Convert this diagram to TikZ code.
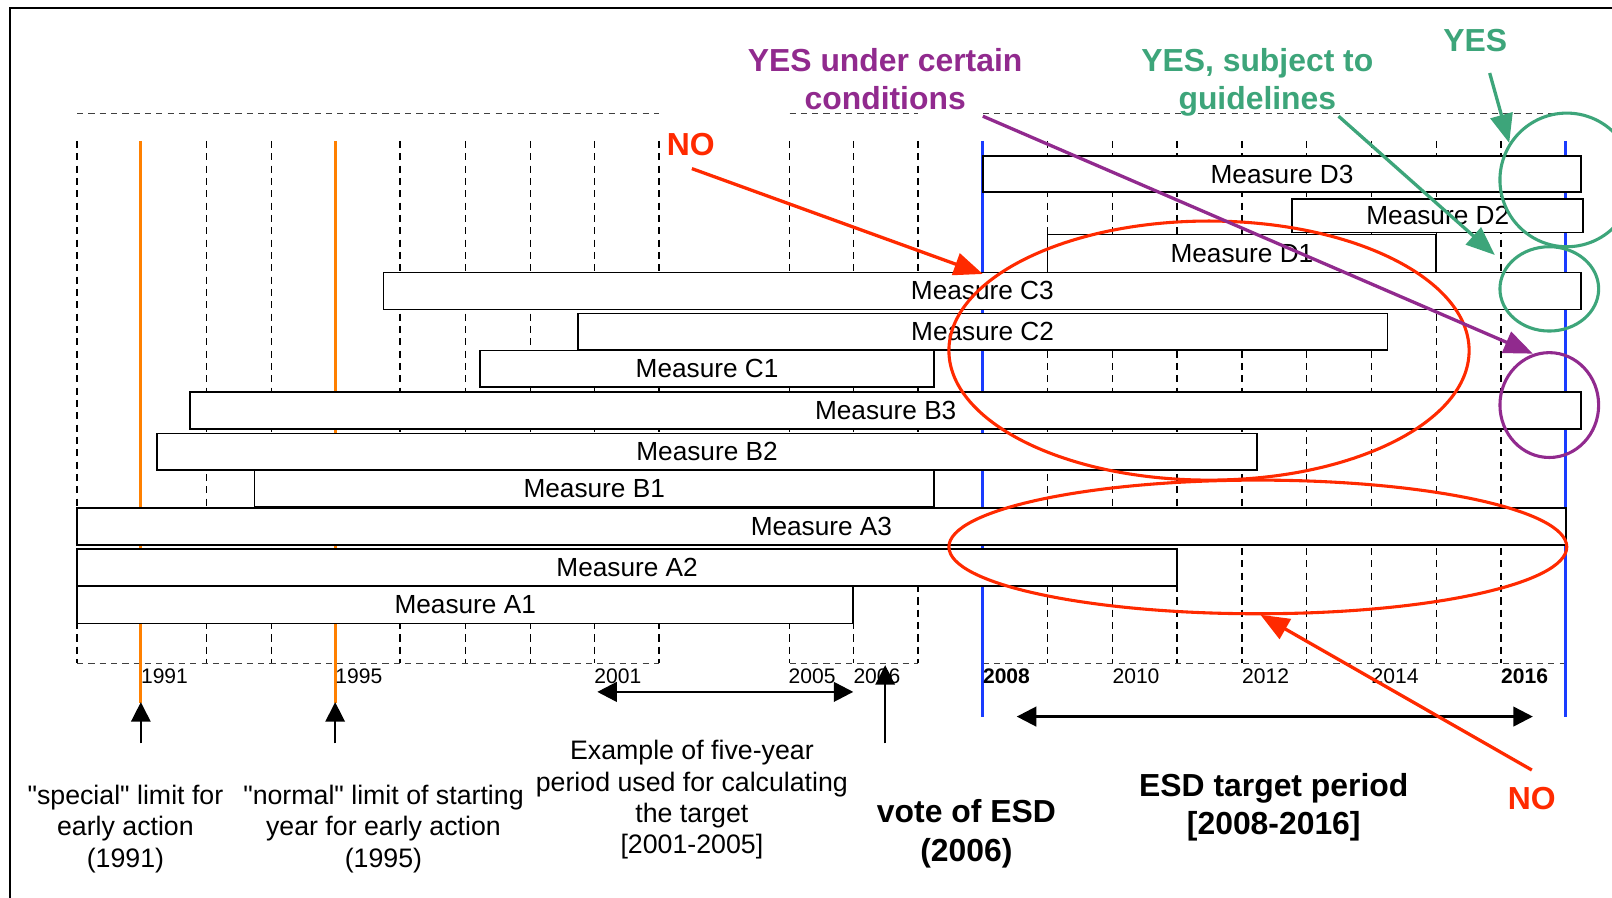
\documentclass[tikz,border=0pt]{standalone}
\usepackage{fontspec}
\setmainfont{Liberation Sans}
\newfontfamily\plainquotefont{Liberation Sans}[Ligatures=ResetAll]
\newcommand{\sq}{{\plainquotefont\char34}}
\usetikzlibrary{arrows.meta}
\definecolor{nored}{HTML}{FF2A00}
\definecolor{yespurple}{HTML}{912A8E}
\definecolor{yesgreen}{HTML}{3DA57A}
\definecolor{esdblue}{HTML}{1A3CFF}
\definecolor{limorange}{HTML}{FF8000}
\tikzset{
  gridline/.style={line width=1.4pt, dash pattern=on 7pt off 5pt},
  hdash/.style={line width=1pt, dash pattern=on 6pt off 5pt, black!75},
  measure/.style={draw, line width=1.6pt, fill=white, inner sep=0pt, font=\fontsize{25.5}{30}\selectfont},
  yearlbl/.style={anchor=west, inner sep=0pt, font=\fontsize{20.5}{24}\selectfont},
  bottomtxt/.style={align=center, inner sep=0pt, font=\fontsize{26}{30.6}\selectfont},
  boldtxt/.style={align=center, inner sep=0pt, font=\fontsize{31}{37}\selectfont\bfseries},
  blkarrow/.style={line width=1.5pt, -{Triangle[length=19pt,width=19pt]}},
  dblarrow/.style={line width=2.5pt, {Triangle[length=19pt,width=19pt]}-{Triangle[length=19pt,width=19pt]}},
  colarrow/.style={line width=3.2pt, -{Triangle[length=28pt,width=22pt]}},
  ring/.style={line width=3pt},
  orangeline/.style={limorange, line width=3pt},
  blueline/.style={esdblue, line width=3pt},
}
\begin{document}
\begin{tikzpicture}[x=1pt,y=-1pt]
\clip (0,0) rectangle (1568,873);
\fill[white] (0,0) rectangle (1568,873);
% frame
\draw[line width=2.2pt] (10,873) -- (10,8) -- (1568,8);
% horizontal dashed lines
\foreach \a/\b in {75/641,768/893,956/1523} {
  \draw[hdash] (\a,110) -- (\b,110);
  \draw[hdash] (\a,645) -- (\b,645);
}
% vertical dashed grid
\foreach \x in {75,201,264,389,453,516,578,641,768,830,893,1019,1082,1145,1208,1271,1334,1397,1460}
  \draw[gridline] (\x,137) -- (\x,645);
% coloured verticals
\draw[orangeline] (137,137) -- (137,684);
\draw[orangeline] (326,137) -- (326,684);
\draw[blueline] (956,137) -- (956,697);
\draw[blueline] (1523,137) -- (1523,697);
% measures
\node[measure, minimum width=582, minimum height=35] (D3) at (1247,169.5) {Measure D3};
\node[measure, minimum width=283, minimum height=32.5] (D2) at (1398.5,209.75) {Measure D2};
\node[measure, minimum width=378, minimum height=37] (D1) at (1208,246.5) {Measure D1};
\node[measure, minimum width=1165, minimum height=36] (C3) at (955.5,283) {Measure C3};
\node[measure, minimum width=787.5, minimum height=35.5] (C2) at (955.75,322.75) {Measure C2};
\node[measure, minimum width=441.5, minimum height=35.5] (C1) at (687.75,358.75) {Measure C1};
\node[measure, minimum width=1353, minimum height=36.5] (B3) at (861.5,399.25) {Measure B3};
\node[measure, minimum width=1069.5, minimum height=35.5] (B2) at (687.75,439.25) {Measure B2};
\node[measure, minimum width=661, minimum height=36] (B1) at (578,475) {Measure B1};
\node[measure, minimum width=1448, minimum height=36] (A3) at (799,512) {Measure A3};
\node[measure, minimum width=1070, minimum height=36] (A2) at (610,552) {Measure A2};
\node[measure, minimum width=755, minimum height=36.5] (A1) at (452.5,588.25) {Measure A1};
% year labels
\node[yearlbl] (y1991) at (137,658) {1991};
\node[yearlbl] (y1995) at (326,658) {1995};
\node[yearlbl] (y2001) at (578,658) {2001};
\node[yearlbl] (y2005) at (767,658) {2005};
\node[yearlbl] (y2006) at (830,658) {2006};
\node[yearlbl, font=\fontsize{20.5}{24}\selectfont\bfseries] (y2008) at (956,658) {2008};
\node[yearlbl] (y2010) at (1082,658) {2010};
\node[yearlbl] (y2012) at (1208,658) {2012};
\node[yearlbl] (y2014) at (1334,658) {2014};
\node[yearlbl, font=\fontsize{20.5}{24}\selectfont\bfseries] (y2016) at (1460,658) {2016};
% bottom arrows
\coordinate (s91) at (137,723); \coordinate (t91) at (137,683);
\coordinate (s95) at (326,723); \coordinate (t95) at (326,683);
\coordinate (sv) at (861,723); \coordinate (tv) at (861,647);
\coordinate (p1) at (581,673); \coordinate (p2) at (830,673);
\coordinate (e1) at (989,697); \coordinate (e2) at (1491,697);
\draw[blkarrow] (s91) -- (t91);
\draw[blkarrow] (s95) -- (t95);
\draw[blkarrow] (sv) -- (tv);
\draw[dblarrow] (p1) -- (p2);
\draw[dblarrow] (e1) -- (e2);
% bottom texts
\node[bottomtxt] (special) at (122,806) {\sq special\sq\ limit for\\early action\\(1991)};
\node[bottomtxt] (normal) at (373,806) {\sq normal\sq\ limit of starting\\year for early action\\(1995)};
\node[bottomtxt] (example) at (673,778) {Example of five-year\\period used for calculating\\the target\\{[2001-2005]}};
\node[boldtxt] (vote) at (940,811) {vote of ESD\\(2006)};
\node[boldtxt] (esd) at (1239,785) {ESD target period\\{[2008-2016]}};
% annotations
\node[boldtxt, text=nored] (noTop) at (672,141) {NO};
\node[boldtxt, text=nored] (noBot) at (1490,777) {NO};
\node[boldtxt, text=yespurple] (yesCond) at (861,77) {YES under certain\\conditions};
\node[boldtxt, text=yesgreen] (yesGuide) at (1223,80) {YES, subject to\\guidelines};
\node[boldtxt, text=yesgreen] (yesTop) at (1435,39.5) {YES};
% ellipses
\draw[nored, ring] (1176,341) ellipse [x radius=253, y radius=126];
\draw[nored, ring] (1223.5,532) ellipse [x radius=300.5, y radius=65];
\draw[yesgreen, ring] (1524,175) ellipse [x radius=65, y radius=65];
\draw[yesgreen, ring] (1507,281) ellipse [x radius=48, y radius=41];
\draw[yespurple, ring] (1507,394) ellipse [x radius=48, y radius=51];
% coloured arrows
\coordinate (noTopS) at (673,164); \coordinate (noTopT) at (956,266.5);
\coordinate (noBotS) at (1490,749); \coordinate (noBotT) at (1226,598);
\coordinate (condS) at (956,113); \coordinate (condT) at (1491,344);
\coordinate (guideS) at (1302,113); \coordinate (guideT) at (1454,248);
\coordinate (yesS) at (1449,71); \coordinate (yesT) at (1468,139);
\draw[colarrow, nored] (noTopS) -- (noTopT);
\draw[colarrow, nored] (noBotS) -- (noBotT);
\draw[colarrow, yespurple] (condS) -- (condT);
\draw[colarrow, yesgreen] (guideS) -- (guideT);
\draw[colarrow, yesgreen] (yesS) -- (yesT);
\end{tikzpicture}
\end{document}
